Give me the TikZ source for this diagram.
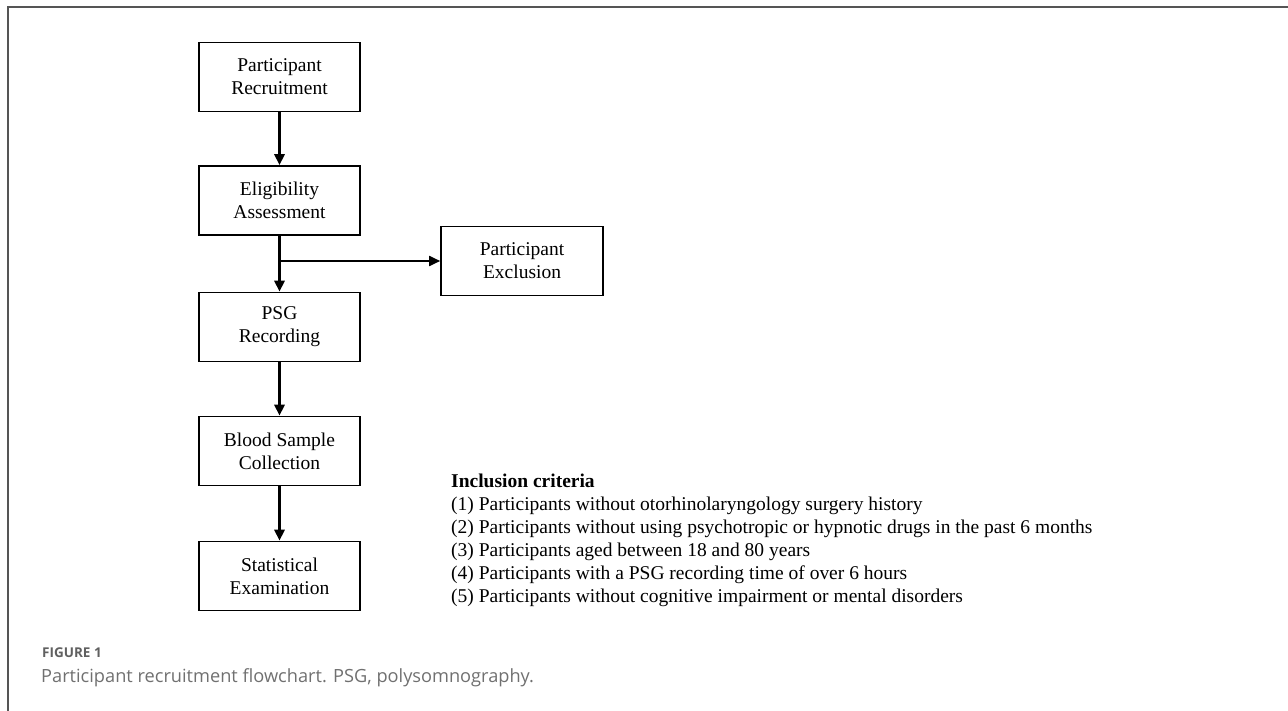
\documentclass[tikz,border=0pt]{standalone}
\usepackage{fontspec}
\setmainfont{Liberation Serif}
\newfontfamily\capfont{Open Sans}
\usetikzlibrary{arrows.meta}
\definecolor{capgray}{HTML}{707070}
\definecolor{figgray}{HTML}{606060}
\definecolor{framegray}{HTML}{555555}
\begin{document}
\begin{tikzpicture}[x=1pt,y=-1pt,
  stepbox/.style={draw, line width=1.6pt, minimum width=161pt, minimum height=69pt,
    align=center, inner sep=0pt, font=\fontsize{19.5}{23}\selectfont},
  arr/.style={-{Triangle[length=11pt,width=10pt]}, line width=2.8pt},
  thinarr/.style={-{Triangle[length=11pt,width=10pt]}, line width=1.8pt},
  crit/.style={anchor=base west, inner sep=0pt, font=\fontsize{19.5}{23}\selectfont}
]
\useasboundingbox (0,0) rectangle (1288,711);
\draw[framegray, line width=1.5pt] (8,711) -- (8,7) -- (1288,7);

\node[stepbox] (rec) at (279.5,77) {Participant\\Recruitment};
\node[stepbox] (elig) at (279.5,200.5) {Eligibility\\Assessment};
\node[stepbox, minimum width=162pt] (exc) at (522,261) {Participant\\Exclusion};
\node[stepbox] (psg) at (279.5,327) {PSG\\Recording};
\node[stepbox] (blood) at (279.5,451) {Blood Sample\\Collection};
\node[stepbox] (stat) at (279.5,576) {Statistical\\Examination};

\coordinate (br) at (279.5,261);
\draw[arr] (rec) -- (elig);
\draw[arr] (elig) -- (psg);
\draw[thinarr] (br) -- (exc.west);
\draw[arr] (psg) -- (blood);
\draw[arr] (blood) -- (stat);

\node[crit] (c0) at (451,487) {\bfseries Inclusion criteria};
\node[crit] (c1) at (451,510) {(1) Participants without otorhinolaryngology surgery history};
\node[crit] (c2) at (451,533) {(2) Participants without using psychotropic or hypnotic drugs in the past 6 months};
\node[crit] (c3) at (451,556) {(3) Participants aged between 18 and 80 years};
\node[crit] (c4) at (451,579) {(4) Participants with a PSG recording time of over 6 hours};
\node[crit] (c5) at (451,602) {(5) Participants without cognitive impairment or mental disorders};

\node[anchor=base west, inner sep=0pt, text=figgray, font=\capfont\bfseries\fontsize{13.5}{16}\selectfont] (fig) at (42,657) {FIGURE 1};
\node[anchor=base west, inner sep=0pt, text=capgray, font=\capfont\fontsize{18.2}{21}\selectfont] (cap) at (41,682) {Participant recruitment flowchart. PSG, polysomnography.};
\end{tikzpicture}
\end{document}
